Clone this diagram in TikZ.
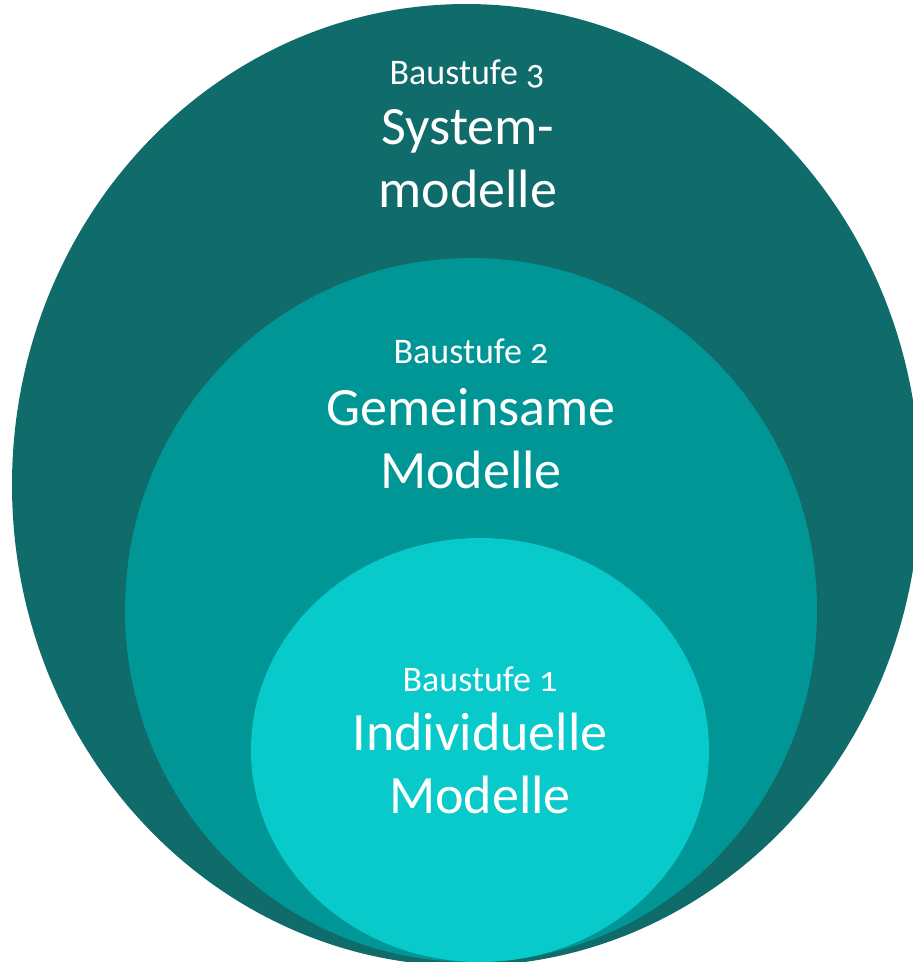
\documentclass[tikz,border=0pt]{standalone}
\usepackage{fontspec}
\setmainfont{Carlito}[Numbers=OldStyle]
\definecolor{ringout}{RGB}{16,107,107}
\definecolor{ringmid}{RGB}{0,150,150}
\definecolor{ringin}{RGB}{8,202,202}
\begin{document}
\begin{tikzpicture}[x=1pt,y=-1pt,
  stage/.style={text=white,font=\fontsize{36}{42}\selectfont,anchor=base,inner sep=0pt},
  title/.style={text=white,font=\fontsize{54}{62}\selectfont,anchor=base,inner sep=0pt}]
\useasboundingbox (0,0) rectangle (913,962);
\clip (0,0) rectangle (913,962);
\fill[ringout] (466,485) ellipse [x radius=454, y radius=481];
\fill[ringmid] (471,610) ellipse [x radius=346, y radius=352];
\fill[ringin] (480,750) ellipse [x radius=229, y radius=212];
\node[stage] (b3) at (467,84) {Baustufe 3};
\node[title] (t3a) at (468,144) {System-};
\node[title] (t3b) at (468,207) {modelle};
\node[stage] (b2) at (471,363) {Baustufe 2};
\node[title] (t2a) at (471,425) {Gemeinsame};
\node[title] (t2b) at (471,488) {Modelle};
\node[stage] (b1) at (480,691) {Baustufe 1};
\node[title] (t1a) at (480,750) {Individuelle};
\node[title] (t1b) at (480,813) {Modelle};
\end{tikzpicture}
\end{document}
